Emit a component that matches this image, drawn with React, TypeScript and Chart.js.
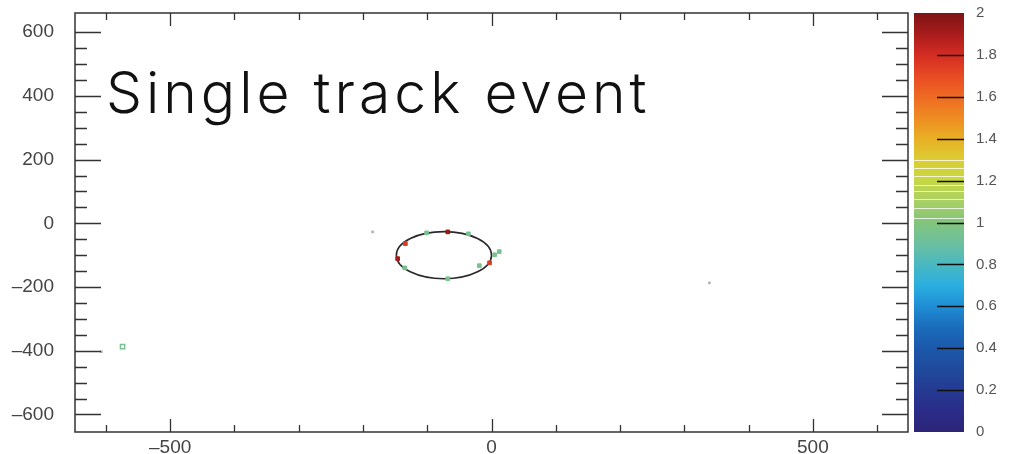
import React, { useEffect, useRef } from 'react';
import { Chart, registerables } from 'chart.js';

Chart.register(...registerables);

// ---- axis ranges & tick labels ----
const xRange = [-648, 648];
const yRange = [-655, 660];
const xTickLabels = [-500, 0, 500];
const yTickLabels = [-600, -400, -200, 0, 200, 400, 600];
const zTickLabels = [0, 0.2, 0.4, 0.6, 0.8, 1, 1.2, 1.4, 1.6, 1.8, 2];

// ---- hits on the ring ----
const hitX = [-68, -134, -146, -101, -36, 5, 12, -3, -19, -68, -135];
const hitY = [-27, -64, -111, -30, -33, -99, -89, -124, -133, -174, -140];
const hitZ = [1.95, 1.75, 1.9, 0.95, 0.95, 0.95, 0.95, 1.75, 0.95, 0.95, 0.95];

// ---- isolated hits ----
const strayX = [-574];
const strayY = [-387];
const strayZ = [0.95];

// ---- faint noise hits ----
const noiseX = [-185, 339, -607];
const noiseY = [-27, -187, -403];

// ---- fitted ring ----
const ringCenterX = -74;
const ringCenterY = -100;
const ringRadius = 74;

// ---- colour palette (value -> colour) ----
const paletteValues = [0, 0.1, 0.2, 0.3, 0.4, 0.5, 0.6, 0.7, 0.8, 0.9, 1.0, 1.1, 1.2, 1.3, 1.4, 1.5, 1.6, 1.7, 1.8, 1.9, 2.0];
const paletteColors = [
  '#2c2478', '#2a2c88', '#253a92', '#1f4a9c', '#1c58aa', '#1b6cbc', '#1f8ed4', '#2aaee0', '#4ab8c0', '#6cc0a0',
  '#82c47c', '#a8d064', '#c6d844', '#dccc34', '#e8b024', '#ee8c22', '#ee6a22', '#e84a24', '#d42c22', '#a81c1c', '#7e1414',
];
const colorbarStripeValues = [1.02, 1.07, 1.11, 1.15, 1.18, 1.22, 1.26, 1.3];

const TITLE = 'Single track event';

function hexToRgb(h: string) {
  const n = parseInt(h.slice(1), 16);
  return [(n >> 16) & 255, (n >> 8) & 255, n & 255];
}
function paletteColor(v: number) {
  const vv = Math.max(0, Math.min(2, v));
  for (let i = 0; i < paletteValues.length - 1; i++) {
    if (vv <= paletteValues[i + 1]) {
      const t = (vv - paletteValues[i]) / (paletteValues[i + 1] - paletteValues[i]);
      const a = hexToRgb(paletteColors[i]);
      const b = hexToRgb(paletteColors[i + 1]);
      const c = a.map((x, k) => Math.round(x + (b[k] - x) * t));
      return `rgb(${c[0]},${c[1]},${c[2]})`;
    }
  }
  return paletteColors[paletteColors.length - 1];
}

const zeroPad = (s: any) => {
  s.paddingTop = 0;
  s.paddingBottom = 0;
  s.paddingLeft = 0;
  s.paddingRight = 0;
};

const dashLabel = (v: any) => String(v).replace('-', '\u2013');

const framePlugin = {
  id: 'frame',
  beforeDatasetsDraw(chart: any) {
    const { ctx, scales } = chart;
    const xs = scales.x;
    const ys = scales.y;
    ctx.save();
    const cx = xs.getPixelForValue(ringCenterX);
    const cy = ys.getPixelForValue(ringCenterY);
    const rx = Math.abs(xs.getPixelForValue(ringCenterX + ringRadius) - cx);
    const ry = Math.abs(ys.getPixelForValue(ringCenterY + ringRadius) - cy);
    ctx.beginPath();
    ctx.ellipse(cx, cy, rx, ry, 0, 0, Math.PI * 2);
    ctx.strokeStyle = '#2a2a2a';
    ctx.lineWidth = 1.6;
    ctx.stroke();
    ctx.restore();
  },
  afterDraw(chart: any) {
    const { ctx, chartArea: a, scales } = chart;
    const xs = scales.x;
    const ys = scales.y;
    const zs = scales.z;
    ctx.save();
    ctx.strokeStyle = '#333';
    ctx.lineWidth = 1.5;
    ctx.strokeRect(a.left, a.top, a.right - a.left, a.bottom - a.top);
    ctx.lineWidth = 1.3;
    ctx.beginPath();
    for (let v = -600; v <= 600; v += 100) {
      const px = Math.round(xs.getPixelForValue(v)) + 0.5;
      const len = v % 500 === 0 ? 13 : 7;
      ctx.moveTo(px, a.bottom);
      ctx.lineTo(px, a.bottom - len);
      ctx.moveTo(px, a.top);
      ctx.lineTo(px, a.top + len);
    }
    for (let v = -600; v <= 600; v += 50) {
      const py = Math.round(ys.getPixelForValue(v)) + 0.5;
      const len = v % 200 === 0 ? 26 : 12;
      ctx.moveTo(a.left, py);
      ctx.lineTo(a.left + len, py);
      ctx.moveTo(a.right, py);
      ctx.lineTo(a.right - len, py);
    }
    ctx.stroke();

    const top = zs.getPixelForValue(2);
    const bot = zs.getPixelForValue(0);
    const bl = a.right + 6;
    const br = a.right + 56;
    const g = ctx.createLinearGradient(0, bot, 0, top);
    paletteValues.forEach((v, i) => g.addColorStop(v / 2, paletteColors[i]));
    ctx.fillStyle = g;
    ctx.fillRect(bl, top, br - bl, bot - top);
    ctx.strokeStyle = 'rgba(255,255,255,0.75)';
    ctx.lineWidth = 1;
    ctx.beginPath();
    colorbarStripeValues.forEach((v) => {
      const py = Math.round(zs.getPixelForValue(v)) + 0.5;
      ctx.moveTo(bl, py);
      ctx.lineTo(br, py);
    });
    ctx.stroke();
    ctx.strokeStyle = '#111';
    ctx.lineWidth = 1.5;
    ctx.beginPath();
    zTickLabels.forEach((v) => {
      if (v <= 0 || v >= 2) return;
      const py = Math.round(zs.getPixelForValue(v)) + 0.5;
      ctx.moveTo(br - 27, py);
      ctx.lineTo(br, py);
    });
    ctx.stroke();

    ctx.fillStyle = '#111';
    ctx.font = '300 57px Inter, "Open Sans", sans-serif';
    try { (ctx as any).letterSpacing = '4px'; } catch (e) {}
    ctx.textBaseline = 'alphabetic';
    ctx.textAlign = 'left';
    ctx.fillText(TITLE, a.left + 31, 113);
    ctx.restore();
  },
};

export default function App() {
  const ref = useRef<HTMLCanvasElement | null>(null);
  useEffect(() => {
    if (!ref.current) return;
    const tickFont = { family: '"Liberation Sans", Arial, sans-serif', size: 19 };
    const chart = new Chart(ref.current, {
      type: 'scatter',
      data: {
        datasets: [
          {
            data: hitX.map((x, i) => ({ x, y: hitY[i] })),
            pointStyle: 'rect',
            pointRadius: 2.6,
            backgroundColor: hitZ.map(paletteColor),
            borderColor: hitZ.map(paletteColor),
            borderWidth: 1,
          },
          {
            data: strayX.map((x, i) => ({ x, y: strayY[i] })),
            pointStyle: 'rect',
            pointRadius: 3,
            backgroundColor: 'rgba(255,255,255,0)',
            borderColor: strayZ.map(paletteColor),
            borderWidth: 1.5,
          },
          {
            data: noiseX.map((x, i) => ({ x, y: noiseY[i] })),
            pointStyle: 'rect',
            pointRadius: 1.8,
            backgroundColor: 'rgba(120,120,120,0.6)',
            borderColor: 'rgba(120,120,120,0.6)',
            borderWidth: 0,
          },
        ],
      },
      options: {
        animation: false,
        responsive: false,
        maintainAspectRatio: false,
        devicePixelRatio: 1,
        layout: { padding: { top: 13, left: 0, right: 0, bottom: 0 } },
        plugins: { legend: { display: false }, tooltip: { enabled: false }, title: { display: false } },
        scales: {
          x: {
            type: 'linear',
            min: xRange[0],
            max: xRange[1],
            grid: { display: false },
            border: { display: false },
            afterBuildTicks: (s: any) => { s.ticks = xTickLabels.map((v) => ({ value: v })); },
            afterFit: (s: any) => { s.height = 22; zeroPad(s); },
            ticks: { color: '#444', font: tickFont, padding: -4, maxRotation: 0, autoSkip: false, callback: dashLabel },
          },
          y: {
            type: 'linear',
            min: yRange[0],
            max: yRange[1],
            grid: { display: false },
            border: { display: false },
            afterBuildTicks: (s: any) => { s.ticks = yTickLabels.map((v) => ({ value: v })); },
            afterFit: (s: any) => { s.width = 75; zeroPad(s); },
            ticks: { color: '#444', font: tickFont, padding: 13, autoSkip: false, callback: dashLabel },
          },
          z: {
            type: 'linear',
            position: 'right',
            min: 0,
            max: 2,
            grid: { display: false },
            border: { display: false },
            afterBuildTicks: (s: any) => { s.ticks = zTickLabels.map((v) => ({ value: v })); },
            afterFit: (s: any) => { s.width = 114; zeroPad(s); },
            ticks: {
              color: '#555',
              font: { family: '"Liberation Sans", Arial, sans-serif', size: 15 },
              padding: 60,
              autoSkip: false,
              callback: (v: any) => String(Number(Number(v).toFixed(1))),
            },
          },
        },
      } as any,
      plugins: [framePlugin],
    });
    return () => chart.destroy();
  }, []);
  return (
    <div style={{ position: 'absolute', left: 0, top: 0, width: 1022, height: 454, background: '#fff' }}>
      <canvas ref={ref} width={1022} height={454} style={{ display: 'block', width: 1022, height: 454 }} />
    </div>
  );
}
